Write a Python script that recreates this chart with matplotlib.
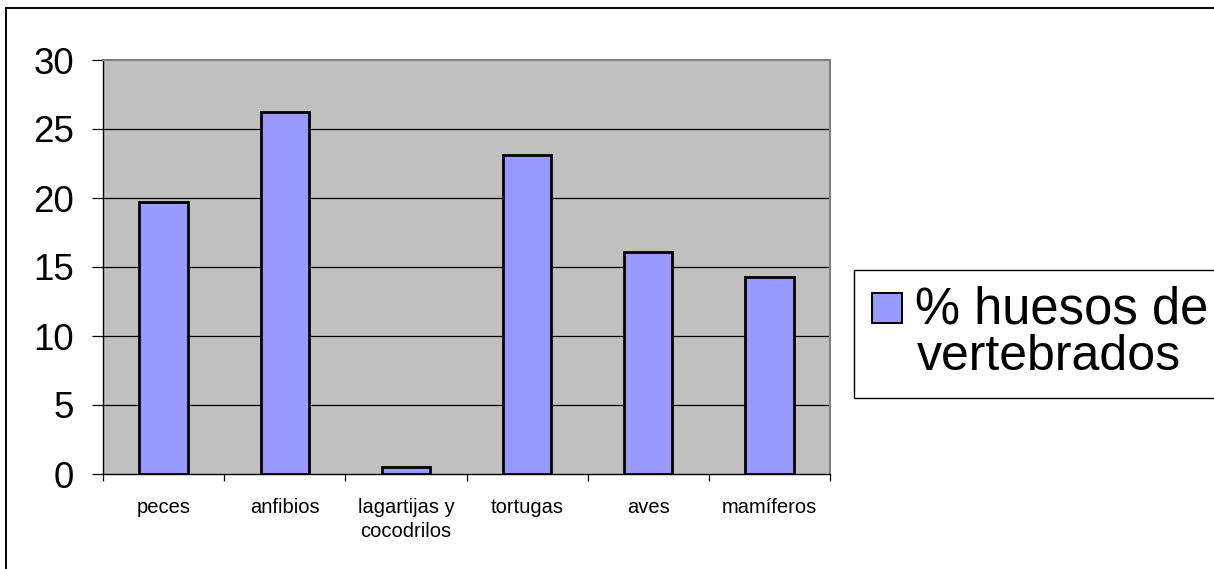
import matplotlib
matplotlib.use("Agg")
import matplotlib.pyplot as plt
from matplotlib.patches import Rectangle
from matplotlib.lines import Line2D
import numpy as np

categories = ["peces", "anfibios", "lagartijas y\ncocodrilos", "tortugas", "aves", "mamíferos"]
values = [19.7, 26.2, 0.5, 23.1, 16.1, 14.3]
yticks = [0, 5, 10, 15, 20, 25, 30]
series_label_lines = ["% huesos de", "vertebrados"]

W, H = 1214, 569
plt.rcParams['font.family'] = ['Liberation Sans', 'DejaVu Sans']
fig = plt.figure(figsize=(W / 100, H / 100), dpi=100)

def fx(px):
    return px / W

def fy(py):
    return 1 - py / H

ax = fig.add_axes([fx(103), fy(474), fx(830) - fx(103), fy(60) - fy(474)])
ax.set_facecolor("#C0C0C0")
x = np.arange(len(categories))
ax.bar(x, values, width=0.40, color="#9999FF", edgecolor="black", linewidth=2.0, zorder=3)
ax.set_xlim(-0.5, len(categories) - 0.5)
ax.set_ylim(0, 30)

for v in yticks[1:-1]:
    ax.axhline(v, color="black", linewidth=0.9, zorder=1)

ax.set_yticks(yticks)
ax.set_yticklabels([str(v) for v in yticks], fontsize=26.5)
ax.tick_params(axis='y', direction='out', length=8, width=0.9, pad=13)

ax.set_xticks(np.arange(len(categories) + 1) - 0.5)
ax.set_xticklabels([])
ax.tick_params(axis='x', which='major', direction='out', length=5, width=0.9)
ax.set_xticks(x, minor=True)
ax.set_xticklabels(categories, minor=True, fontsize=14.5, linespacing=1.35)
ax.tick_params(axis='x', which='minor', length=0, pad=17)

for s in ["left", "bottom"]:
    ax.spines[s].set_color("black")
    ax.spines[s].set_linewidth(1.0)
for s in ["top", "right"]:
    ax.spines[s].set_color("#808080")
    ax.spines[s].set_linewidth(1.5)

# outer chart border
fig.add_artist(Line2D([fx(6), fx(6)], [fy(8), 0], transform=fig.transFigure, color="black", linewidth=1.4))
fig.add_artist(Line2D([fx(6), 1], [fy(8), fy(8)], transform=fig.transFigure, color="black", linewidth=1.4))

# legend box
fig.add_artist(Rectangle((fx(854), fy(398)), fx(1230) - fx(854), fy(270) - fy(398),
                         transform=fig.transFigure, facecolor="white", edgecolor="black", linewidth=1.0))
fig.add_artist(Rectangle((fx(872), fy(323)), fx(902) - fx(872), fy(293) - fy(323),
                         transform=fig.transFigure, facecolor="#9999FF", edgecolor="black", linewidth=1.4))
fig.text(fx(915), fy(323), series_label_lines[0], fontsize=36.5, ha="left", va="baseline")
fig.text(fx(917), fy(370), series_label_lines[1], fontsize=36, ha="left", va="baseline")

fig.savefig("out.png", dpi=100)
